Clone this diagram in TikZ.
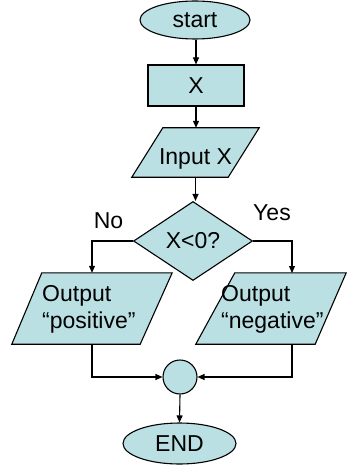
\documentclass[tikz,border=0pt]{standalone}
\usepackage{fontspec}
\setmainfont{Liberation Sans}
\usetikzlibrary{shapes.geometric,arrows.meta}
\definecolor{boxfill}{RGB}{186,224,227}
\begin{document}
\begin{tikzpicture}[x=1pt,y=-1pt,
  font=\fontsize{23}{27}\selectfont,
  every node/.style={inner sep=0pt},
  shapebox/.style={draw=black,fill=boxfill,line width=1.1pt,line join=miter},
  term/.style={shapebox,ellipse},
  procbox/.style={shapebox,rectangle},
  iofrm/.style={rectangle},
  decbox/.style={shapebox,diamond},
  joinbox/.style={shapebox,circle,minimum size=34pt},
  arr/.style={line width=1.1pt,-{Triangle[length=7pt,width=6pt]}},
  lbl/.style={}
]
\useasboundingbox (0,0) rectangle (349,465);

\node[term,minimum width=110pt,minimum height=38pt] (start) at (195,20) {start};
\node[procbox,minimum width=96pt,minimum height=41pt] (x) at (196,85.5) {X};

% input parallelogram
\node[iofrm,minimum width=127pt,minimum height=49pt] (in) at (195.5,152.5) {};
\path[shapebox] ([xshift=31pt]in.north west) -- (in.north east)
  -- ([xshift=-31pt]in.south east) -- (in.south west) -- cycle;
\node[text height=24pt,text depth=0pt] (intext) at (in.center) {Input X};

\node[decbox,minimum width=119pt,minimum height=79pt] (dec) at (193,241) {X<0?};

% output parallelograms
\node[iofrm,minimum width=160pt,minimum height=71pt] (lo) at (92,308.5) {};
\path[shapebox] ([xshift=30pt]lo.north west) -- (lo.north east)
  -- ([xshift=-32pt]lo.south east) -- (lo.south west) -- cycle;
\node[iofrm,minimum width=150pt,minimum height=71pt] (ro) at (271,308.5) {};
\path[shapebox] ([xshift=39pt]ro.north west) -- (ro.north east)
  -- ([xshift=-31pt]ro.south east) -- (ro.south west) -- cycle;
\node[anchor=north west,align=left] (lot) at (42,285) {Output\\“positive”};
\node[anchor=north west,align=left] (rot) at (221,285) {Output\\“negative”};

\node[joinbox] (join) at (180,377) {};
\node[term,minimum width=113pt,minimum height=41pt] (end) at (179.5,443.5) {END};

\node[lbl] (no) at (108.5,220.5) {No};
\node[lbl] (yes) at (272,212.5) {Yes};

\coordinate (rtop) at (292,273);
\coordinate (rbot) at (292,344);

\draw[arr] (x.north |- start.south) -- (x.north);
\draw[arr] (x.south) -- (x.south |- in.north);
\draw[arr] (in.south) -- (in.south |- dec.north);
\draw[arr] (dec.west) -| (lo.north);
\draw[arr] (dec.east) -| (rtop);
\draw[arr] (lo.south) |- (join.west);
\draw[arr] (rbot) |- (join.east);
\draw[arr] (join.south) -- (end.north);
\end{tikzpicture}
\end{document}
